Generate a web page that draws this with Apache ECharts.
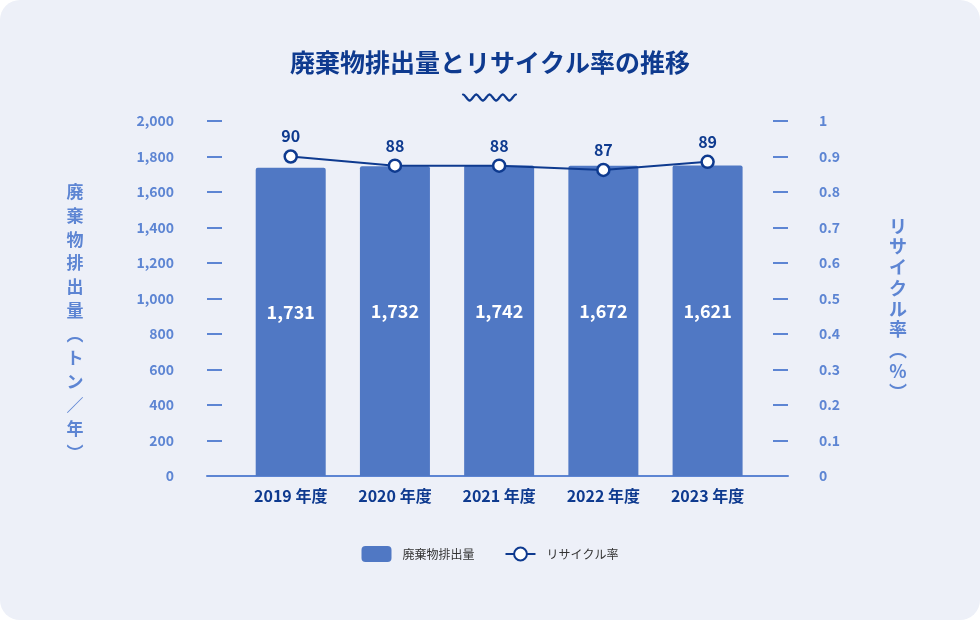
<!DOCTYPE html>
<html><head><meta charset="utf-8">
<script src="https://cdn.jsdelivr.net/npm/echarts@6/dist/echarts.min.js"></script>
<style>
html,body{margin:0;padding:0;background:#ffffff;}
#c{width:980px;height:620px;background:#edf0f8;border-radius:20px;overflow:hidden;}
</style></head><body><div id="c"></div>
<script>
const categories = ['2019 年度','2020 年度','2021 年度','2022 年度','2023 年度'];
const wasteBarValues = [1737, 1745, 1750, 1748, 1750];
const wasteLabels = ['1,731','1,732','1,742','1,672','1,621'];
const recycleValues = [0.900, 0.874, 0.874, 0.862, 0.885];
const recycleLabels = ['90','88','88','87','89'];
const leftTicks = {min:0, max:2000, interval:200};
const rightTicks = {min:0, max:1, interval:0.1};

const NAVY = '#0e3a8f', LIGHT = '#5d85d3', BAR = '#5078c4';
const FONT = '"Noto Sans CJK JP","Noto Sans",sans-serif';
const chart = echarts.init(document.getElementById('c'));
const leftName = [' ', ' '].concat('廃棄物排出量'.split(''), ['︵','ト','ン','／','年','︶']).join('\n');
const rightName = [' '].concat('リサイクル率'.split(''), ['︵','%','︶']).join('\n');

const waveParts = [];
const P = 13.25, H = 6;
for (let i = 0; i < 4; i++) {
  const x0 = i * P;
  waveParts.push({type: 'bezierCurve',
    shape: {x1: x0, y1: 0, x2: x0 + P/2, y2: H, cpx1: x0 + P*0.18, cpy1: 0, cpx2: x0 + P*0.32, cpy2: H},
    style: {fill: 'none', stroke: NAVY, lineWidth: 2.2, lineCap: 'round'}});
  waveParts.push({type: 'bezierCurve',
    shape: {x1: x0 + P/2, y1: H, x2: x0 + P, y2: 0, cpx1: x0 + P*0.68, cpy1: H, cpx2: x0 + P*0.82, cpy2: 0},
    style: {fill: 'none', stroke: NAVY, lineWidth: 2.2, lineCap: 'round'}});
}

chart.setOption({
  backgroundColor: 'transparent',
  textStyle: {fontFamily: FONT},
  title: {text: '廃棄物排出量とリサイクル率の推移', left: 'center', top: 45,
    textStyle: {color: NAVY, fontSize: 25, fontWeight: 'bold', fontFamily: FONT}},
  graphic: [{type: 'group', x: 463, y: 94.5, children: waveParts}],
  legend: {bottom: 53, left: 'center', itemGap: 30, itemWidth: 30, itemHeight: 16,
    textStyle: {color: '#333', fontSize: 12, fontFamily: FONT, padding: [0,0,0,6]},
    data: [{name: '廃棄物排出量', icon: 'roundRect'}, {name: 'リサイクル率'}]},
  grid: [
    {left: 238.6, right: 220.3, top: 121, bottom: 144},
    {left: 207, right: 192, top: 121, bottom: 144}
  ],
  xAxis: [
    {type: 'category', gridIndex: 0, data: categories,
     axisLine: {show: false}, axisTick: {show: false},
     axisLabel: {color: NAVY, fontSize: 16, fontWeight: 'bold', margin: 12, fontFamily: FONT}},
    {type: 'value', gridIndex: 1, min: 0, max: 1,
     axisLine: {show: true, lineStyle: {color: LIGHT, width: 2}},
     axisTick: {show: false}, axisLabel: {show: false}, splitLine: {show: false}}
  ],
  yAxis: [
    {type: 'value', gridIndex: 0, min: leftTicks.min, max: leftTicks.max, interval: leftTicks.interval, show: false},
    {type: 'value', gridIndex: 0, min: rightTicks.min, max: rightTicks.max, interval: rightTicks.interval, show: false},
    {type: 'value', gridIndex: 1, position: 'left', min: leftTicks.min, max: leftTicks.max, interval: leftTicks.interval,
     axisLine: {show: false}, splitLine: {show: false},
     axisTick: {show: true, inside: true, length: 15, lineStyle: {color: LIGHT, width: 2}},
     axisLabel: {color: LIGHT, fontSize: 14, margin: 33, fontWeight: 'bold', fontFamily: FONT,
       formatter: v => v.toLocaleString('en-US')},
     name: leftName, nameLocation: 'middle', nameRotate: 0, nameGap: 132,
     nameTextStyle: {color: LIGHT, fontSize: 17, fontWeight: 'bold', lineHeight: 23.7, align: 'center', fontFamily: FONT}},
    {type: 'value', gridIndex: 1, position: 'right', min: rightTicks.min, max: rightTicks.max, interval: rightTicks.interval,
     axisLine: {show: false}, splitLine: {show: false},
     axisTick: {show: true, inside: true, length: 15, lineStyle: {color: LIGHT, width: 2}},
     axisLabel: {color: LIGHT, fontSize: 14, margin: 31, fontWeight: 'bold', fontFamily: FONT},
     name: rightName, nameLocation: 'middle', nameRotate: 0, nameGap: 110,
     nameTextStyle: {color: LIGHT, fontSize: 18, fontWeight: 'bold', lineHeight: 20.75, align: 'center', fontFamily: FONT}}
  ],
  series: [
    {name: '廃棄物排出量', type: 'bar', xAxisIndex: 0, yAxisIndex: 0, data: wasteBarValues,
     barWidth: 70, itemStyle: {color: BAR, borderRadius: [2,2,0,0]},
     label: {show: true, position: 'inside', offset: [0, -10], color: '#fff', fontSize: 18, fontWeight: 'bold', fontFamily: FONT,
       formatter: p => wasteLabels[p.dataIndex]}},
    {name: 'リサイクル率', type: 'line', xAxisIndex: 0, yAxisIndex: 1, data: recycleValues,
     symbol: 'circle', symbolSize: 12, z: 5,
     lineStyle: {color: NAVY, width: 2},
     itemStyle: {color: '#fff', borderColor: NAVY, borderWidth: 2.5},
     label: {show: true, position: 'top', distance: 5, color: NAVY, fontSize: 16, fontWeight: 'bold', fontFamily: FONT,
       formatter: p => recycleLabels[p.dataIndex]}}
  ]
});
</script></body></html>
